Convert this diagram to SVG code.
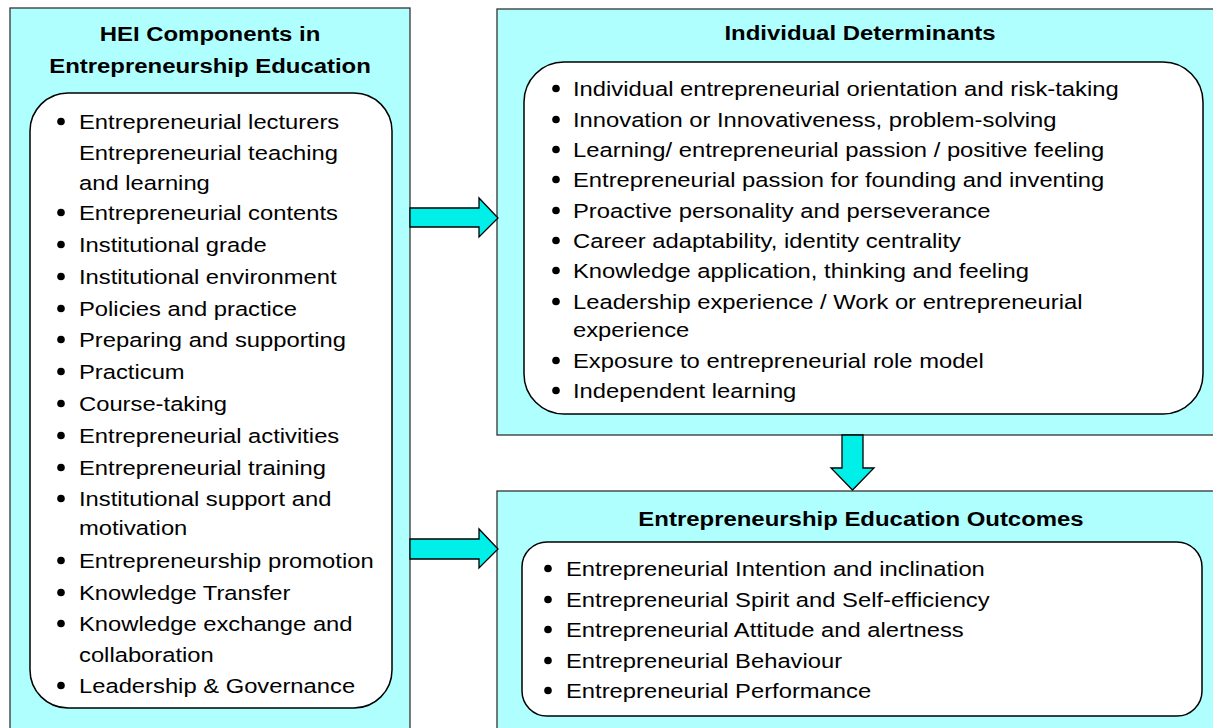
<svg xmlns="http://www.w3.org/2000/svg" width="1213" height="728" viewBox="0 0 1213 728">
<style>
.outer{fill:#b0ffff;stroke:#333;stroke-width:1.3}
.inner{fill:#fff;stroke:#000;stroke-width:1.5}
.h{font-family:"Liberation Sans",Arial,sans-serif;font-weight:bold;font-size:21px;text-anchor:middle;fill:#000}
.t{font-family:"Liberation Sans",Arial,sans-serif;font-size:20.5px;fill:#000}
.b{fill:#000}
.arrow{fill:#00efe9;stroke:#000;stroke-width:1.3;stroke-linejoin:miter}
</style>
<rect x="0" y="0" width="1213" height="728" fill="#fff"/>

<g id="hei">
<rect class="outer" x="10" y="8" width="400" height="740"/>
<rect class="inner" x="30" y="93" width="362" height="615" rx="38" ry="38"/>
<text class="h" transform="translate(210 41) scale(1.14 1)">HEI Components in</text>
<text class="h" transform="translate(210 73) scale(1.14 1)">Entrepreneurship Education</text>
<g>
<circle class="b" cx="61" cy="121.5" r="3.8"/>
<circle class="b" cx="61" cy="212.5" r="3.8"/>
<circle class="b" cx="61" cy="244.5" r="3.8"/>
<circle class="b" cx="61" cy="276.5" r="3.8"/>
<circle class="b" cx="61" cy="308.5" r="3.8"/>
<circle class="b" cx="61" cy="339.5" r="3.8"/>
<circle class="b" cx="61" cy="371.5" r="3.8"/>
<circle class="b" cx="61" cy="403.5" r="3.8"/>
<circle class="b" cx="61" cy="435.5" r="3.8"/>
<circle class="b" cx="61" cy="467.5" r="3.8"/>
<circle class="b" cx="61" cy="498.5" r="3.8"/>
<circle class="b" cx="61" cy="560.5" r="3.8"/>
<circle class="b" cx="61" cy="592.5" r="3.8"/>
<circle class="b" cx="61" cy="623.5" r="3.8"/>
<circle class="b" cx="61" cy="685.5" r="3.8"/>
</g>
<text class="t" transform="translate(79 129) scale(1.16 1)">Entrepreneurial lecturers</text>
<text class="t" transform="translate(79 160) scale(1.16 1)">Entrepreneurial teaching</text>
<text class="t" transform="translate(79 190) scale(1.16 1)">and learning</text>
<text class="t" transform="translate(79 220) scale(1.16 1)">Entrepreneurial contents</text>
<text class="t" transform="translate(79 252) scale(1.16 1)">Institutional grade</text>
<text class="t" transform="translate(79 284) scale(1.16 1)">Institutional environment</text>
<text class="t" transform="translate(79 316) scale(1.16 1)">Policies and practice</text>
<text class="t" transform="translate(79 347) scale(1.16 1)">Preparing and supporting</text>
<text class="t" transform="translate(79 379) scale(1.16 1)">Practicum</text>
<text class="t" transform="translate(79 411) scale(1.16 1)">Course-taking</text>
<text class="t" transform="translate(79 443) scale(1.16 1)">Entrepreneurial activities</text>
<text class="t" transform="translate(79 475) scale(1.16 1)">Entrepreneurial training</text>
<text class="t" transform="translate(79 506) scale(1.16 1)">Institutional support and</text>
<text class="t" transform="translate(79 535) scale(1.16 1)">motivation</text>
<text class="t" transform="translate(79 568) scale(1.16 1)">Entrepreneurship promotion</text>
<text class="t" transform="translate(79 600) scale(1.16 1)">Knowledge Transfer</text>
<text class="t" transform="translate(79 631) scale(1.16 1)">Knowledge exchange and</text>
<text class="t" transform="translate(79 662) scale(1.16 1)">collaboration</text>
<text class="t" transform="translate(79 693) scale(1.16 1)">Leadership &amp; Governance</text>
</g>

<g id="individual">
<rect class="outer" x="497" y="9" width="730" height="426"/>
<rect class="inner" x="524" y="62" width="679" height="352" rx="40" ry="40"/>
<text class="h" transform="translate(860 40) scale(1.14 1)">Individual Determinants</text>
<g>
<circle class="b" cx="556" cy="88.5" r="3.8"/>
<circle class="b" cx="556" cy="119.5" r="3.8"/>
<circle class="b" cx="556" cy="149.5" r="3.8"/>
<circle class="b" cx="556" cy="179.5" r="3.8"/>
<circle class="b" cx="556" cy="210.5" r="3.8"/>
<circle class="b" cx="556" cy="240.5" r="3.8"/>
<circle class="b" cx="556" cy="270.5" r="3.8"/>
<circle class="b" cx="556" cy="301.5" r="3.8"/>
<circle class="b" cx="556" cy="360.5" r="3.8"/>
<circle class="b" cx="556" cy="390.5" r="3.8"/>
</g>
<text class="t" transform="translate(573 96) scale(1.16 1)">Individual entrepreneurial orientation and risk-taking</text>
<text class="t" transform="translate(573 127) scale(1.16 1)">Innovation or Innovativeness, problem-solving</text>
<text class="t" transform="translate(573 157) scale(1.16 1)">Learning/ entrepreneurial passion / positive feeling</text>
<text class="t" transform="translate(573 187) scale(1.16 1)">Entrepreneurial passion for founding and inventing</text>
<text class="t" transform="translate(573 218) scale(1.16 1)">Proactive personality and perseverance</text>
<text class="t" transform="translate(573 248) scale(1.16 1)">Career adaptability, identity centrality</text>
<text class="t" transform="translate(573 278) scale(1.16 1)">Knowledge application, thinking and feeling</text>
<text class="t" transform="translate(573 309) scale(1.16 1)">Leadership experience / Work or entrepreneurial</text>
<text class="t" transform="translate(573 337) scale(1.16 1)">experience</text>
<text class="t" transform="translate(573 368) scale(1.16 1)">Exposure to entrepreneurial role model</text>
<text class="t" transform="translate(573 398) scale(1.16 1)">Independent learning</text>
</g>

<g id="outcomes">
<rect class="outer" x="497" y="491" width="730" height="260"/>
<rect class="inner" x="522" y="542" width="680" height="174" rx="25" ry="25"/>
<text class="h" transform="translate(861 526) scale(1.14 1)">Entrepreneurship Education Outcomes</text>
<g>
<circle class="b" cx="548" cy="568.5" r="3.8"/>
<circle class="b" cx="548" cy="599.5" r="3.8"/>
<circle class="b" cx="548" cy="629.5" r="3.8"/>
<circle class="b" cx="548" cy="660.5" r="3.8"/>
<circle class="b" cx="548" cy="690.5" r="3.8"/>
</g>
<text class="t" transform="translate(566 576) scale(1.16 1)">Entrepreneurial Intention and inclination</text>
<text class="t" transform="translate(566 607) scale(1.16 1)">Entrepreneurial Spirit and Self-efficiency</text>
<text class="t" transform="translate(566 637) scale(1.16 1)">Entrepreneurial Attitude and alertness</text>
<text class="t" transform="translate(566 668) scale(1.16 1)">Entrepreneurial Behaviour</text>
<text class="t" transform="translate(566 698) scale(1.16 1)">Entrepreneurial Performance</text>
</g>

<g id="connectors">
<polygon class="arrow" points="410,208 479,208 479,198 498,218 479,237 479,227 410,227"/>
<polygon class="arrow" points="410,539 479,539 479,529 498,549 479,568 479,559 410,559"/>
<polygon class="arrow" points="842,435 863,435 863,468 874,468 852.5,490 831,468 842,468"/>
</g>
</svg>
